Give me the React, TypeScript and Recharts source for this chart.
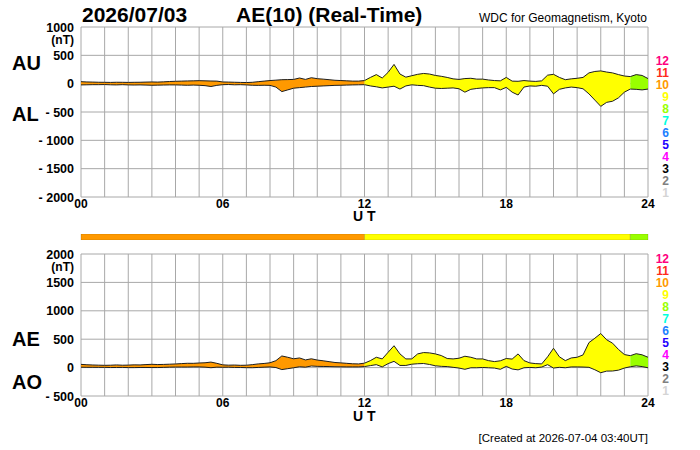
import React from "react";
import { AreaChart, Area, XAxis, YAxis, CartesianGrid, BarChart, Bar } from "recharts";

// 15-minute samples, 00 UT to 24 UT
const AU = [
  35, 30, 28, 25, 24, 22, 25, 24, 22, 24, 25, 28, 30, 28, 32, 38, 42,
  45, 48, 50, 53, 50, 47, 45, 30, 28, 25, 22, 20, 24, 35, 45, 55,
  62, 70, 72, 75, 100, 75, 105, 88, 80, 70, 60, 55, 50, 45, 45, 55,
  110, 160, 100, 200, 340, 170, 115, 140, 165, 180, 170, 145, 130, 110, 85, 75,
  90, 95, 80, 80, 65, 55, 50, 110, 45, 42, 55, 45, 40, 50, 150, 165,
  110, 70, 85, 95, 110, 190, 215, 225, 205, 190, 160, 135, 125, 160, 145, 90,
];
const AL = [
  -22, -20, -18, -18, -16, -20, -22, -18, -22, -24, -22, -25, -28, -26, -24, -22, -22,
  -25, -28, -25, -28, -35, -50, -30, -18, -15, -20, -18, -22, -28, -30, -28, -30,
  -60, -140, -110, -80, -70, -60, -50, -45, -40, -35, -30, -28, -25, -22, -20, -18,
  -40, -55, -75, -60, -45, -95, -40, -20, -30, -35, -60, -80, -85, -80, -75, -90,
  -150, -100, -85, -75, -70, -70, -110, -65, -150, -200, -60, -40, -45, -30, -45, -180,
  -100, -75, -60, -70, -90, -180, -290, -400, -330, -310, -250, -150, -95, -100, -110, -95,
];
const AE = [
  57, 50, 46, 43, 40, 42, 47, 42, 44, 48, 47, 53, 58, 54, 56, 60, 64,
  70, 76, 75, 81, 85, 97, 75, 48, 43, 45, 40, 42, 52, 65, 73, 85,
  122, 205, 182, 155, 170, 135, 155, 133, 120, 105, 90, 83, 75, 67, 65, 78,
  123, 182, 153, 270, 385, 241, 153, 153, 241, 265, 259, 241, 212, 160, 153, 165,
  200, 182, 153, 153, 123, 106, 120, 160, 150, 241, 123, 82, 70, 65, 190, 340,
  190, 123, 170, 182, 223, 440, 517, 600, 490, 430, 320, 230, 210, 245, 225, 182,
];
const AO = [
  7, 5, 5, 4, 4, 1, 2, 3, 0, 0, 2, 2, 1, 1, 4, 8, 10,
  10, 10, 12, 12, 8, -2, 8, 6, 7, 3, 2, -1, -2, 3, 8, 12,
  1, -35, -19, -3, 15, 8, 28, 22, 20, 18, 15, 14, 12, 12, 12, 18,
  35, 52, 12, 70, 110, 38, 38, 60, 68, 72, 55, 32, 22, 18, 5, -8,
  -30, -3, -3, 2, -3, -8, -30, 22, -25, -40, -3, 3, -3, 10, 52, -8,
  5, -3, 12, 12, 10, 5, -38, -90, -62, -60, -45, -8, 15, 30, 18, -3,
];

// number of contributing stations by time span
const segments = [
  { from: 0, to: 12, stations: 10 },
  { from: 12, to: 23.25, stations: 9 },
  { from: 23.25, to: 24, stations: 8 },
];

const stationColors: Record<number, string> = {
  12: "#ff0080",
  11: "#ff2a1a",
  10: "#ff9900",
  9: "#ffff00",
  8: "#99ff00",
  7: "#00ffdd",
  6: "#1a80ff",
  5: "#2200ff",
  4: "#ff00ff",
  3: "#000000",
  2: "#808080",
  1: "#d4d4d4",
};
const legendCounts = [12, 11, 10, 9, 8, 7, 6, 5, 4, 3, 2, 1];

const hourTicks = [0, 1, 2, 3, 4, 5, 6, 7, 8, 9, 10, 11, 12, 13, 14, 15, 16, 17, 18, 19, 20, 21, 22, 23, 24];
const topTicks = [-2000, -1500, -1000, -500, 0, 500, 1000];
const bottomTicks = [-500, 0, 500, 1000, 1500, 2000];

const STEP = 0.25;
const rows = AU.map((au, i) => {
  const t = i * STEP;
  const row: any = { t };
  segments.forEach((s) => {
    const inside = t >= s.from && t <= s.to;
    row[`top${s.stations}`] = inside ? [AL[i], au] : null;
    row[`bot${s.stations}`] = inside ? [AO[i], AE[i]] : null;
  });
  return row;
});

const barRow: any = { name: "stations" };
segments.forEach((s) => {
  barRow[`s${s.stations}`] = s.to - s.from;
});

const FONT = "'Liberation Sans', Arial, Helvetica, sans-serif";

function YTick(props: any) {
  const { x, y, payload, top } = props;
  const v = payload.value;
  const label = v < 0 ? `- ${-v}` : String(v);
  return (
    <g>
      <text x={x} y={y} dy="0.36em" textAnchor="end" fontSize={12.5} fontWeight="bold" fill="#000" fontFamily={FONT}>
        {label}
      </text>
      {v === top && (
        <text x={x} y={y + 13} dy="0.36em" textAnchor="end" fontSize={12} fontWeight="bold" fill="#000" fontFamily={FONT}>
          (nT)
        </text>
      )}
    </g>
  );
}

const hourLabel = (h: number) => (h % 6 === 0 ? String(h).padStart(2, "0") : "");

function Panel({ prefix, ticks, top, height, margin }: any) {
  return (
    <AreaChart width={700} height={height} data={rows} margin={margin}>
      <CartesianGrid stroke="#a8a8a8" strokeWidth={1} />
      <XAxis
        dataKey="t"
        type="number"
        domain={[0, 24]}
        ticks={hourTicks}
        interval={0}
        tickFormatter={hourLabel}
        axisLine={false}
        tickLine={false}
        tickSize={0}
        tickMargin={2}
        height={30}
        tick={{ fontSize: 12, fontWeight: "bold", fill: "#000", fontFamily: FONT }}
      />
      <YAxis
        type="number"
        domain={[ticks[0], ticks[ticks.length - 1]]}
        ticks={ticks}
        interval={0}
        width={81}
        axisLine={false}
        tickLine={false}
        tickMargin={1}
        tick={(p: any) => <YTick {...p} top={top} />}
      />
      {segments.map((s) => (
        <Area
          key={s.stations}
          type="linear"
          dataKey={`${prefix}${s.stations}`}
          stroke="#1e1e1e"
          strokeWidth={1}
          fill={stationColors[s.stations]}
          fillOpacity={1}
          dot={false}
          activeDot={false}
          connectNulls={false}
          isAnimationActive={false}
        />
      ))}
    </AreaChart>
  );
}

function Legend({ baseline }: { baseline: number }) {
  return (
    <>
      {legendCounts.map((n, i) => (
        <text
          key={n}
          x={669}
          y={baseline + i * 12}
          textAnchor="end"
          fontSize={12}
          fontWeight="bold"
          fill={stationColors[n]}
        >
          {n}
        </text>
      ))}
    </>
  );
}

export default function App() {
  return (
    <div style={{ position: "absolute", left: 0, top: 0, width: 700, height: 450, background: "#fff", fontFamily: FONT }}>
      <div style={{ position: "absolute", left: 0, top: 0 }}>
        <Panel prefix="top" ticks={topTicks} top={1000} height={230} margin={{ top: 27, right: 52, bottom: 3, left: 0 }} />
      </div>
      <div style={{ position: "absolute", left: 0, top: 234 }}>
        <BarChart
          width={700}
          height={6}
          layout="vertical"
          data={[barRow]}
          margin={{ top: 0, right: 52, bottom: 0, left: 81 }}
          barCategoryGap={0}
        >
          <XAxis type="number" domain={[0, 24]} hide />
          <YAxis type="category" dataKey="name" hide />
          {segments.map((s) => (
            <Bar
              key={s.stations}
              dataKey={`s${s.stations}`}
              stackId="st"
              fill={stationColors[s.stations]}
              stroke="rgba(90,70,0,0.35)"
              strokeWidth={0.6}
              isAnimationActive={false}
            />
          ))}
        </BarChart>
      </div>
      <div style={{ position: "absolute", left: 0, top: 240 }}>
        <Panel prefix="bot" ticks={bottomTicks} top={2000} height={200} margin={{ top: 14, right: 52, bottom: 14, left: 0 }} />
      </div>
      <svg
        width={700}
        height={450}
        style={{ position: "absolute", left: 0, top: 0, pointerEvents: "none" }}
        fontFamily={FONT}
      >
        <text x={82} y={22} fontSize={21} fontWeight="bold">2026/07/03</text>
        <text x={236} y={22} fontSize={21} fontWeight="bold">AE(10) (Real-Time)</text>
        <text x={647} y={21.5} fontSize={12} textAnchor="end">WDC for Geomagnetism, Kyoto</text>
        <text x={12} y={70} fontSize={20} fontWeight="bold">AU</text>
        <text x={12} y={121} fontSize={20} fontWeight="bold">AL</text>
        <text x={12} y={346} fontSize={20} fontWeight="bold">AE</text>
        <text x={12} y={389} fontSize={20} fontWeight="bold">AO</text>
        <text x={353} y={221} fontSize={14} fontWeight="bold">U T</text>
        <text x={353} y={421} fontSize={14} fontWeight="bold">U T</text>
        <text x={648} y={442} fontSize={11.5} textAnchor="end">[Created at 2026-07-04 03:40UT]</text>
        <Legend baseline={65} />
        <Legend baseline={263} />
      </svg>
    </div>
  );
}
